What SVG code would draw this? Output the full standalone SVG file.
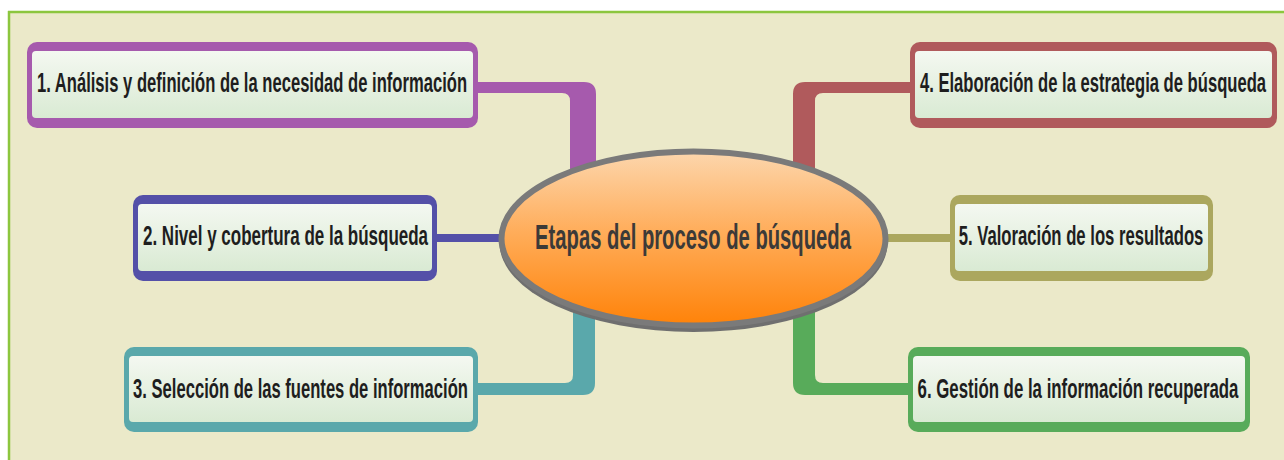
<svg xmlns="http://www.w3.org/2000/svg" width="1284" height="460" viewBox="0 0 1284 460">
<style>
.lbl{font-family:"Liberation Sans",Arial,sans-serif;font-weight:bold;font-size:28px;fill:#1e1e1e;text-anchor:middle}
.ctr{font-family:"Liberation Sans",Arial,sans-serif;font-weight:bold;font-size:35px;fill:#3c3a38;text-anchor:middle}
.inner{fill:url(#boxg)}
</style>
<defs>
<linearGradient id="boxg" x1="0" y1="0" x2="0" y2="1">
<stop offset="0" stop-color="#f4f8f1"/>
<stop offset="1" stop-color="#d9ead3"/>
</linearGradient>
<linearGradient id="ellg" x1="0" y1="0" x2="0" y2="1">
<stop offset="0" stop-color="#fcd6ad"/>
<stop offset="0.45" stop-color="#ffae5c"/>
<stop offset="1" stop-color="#ff8208"/>
</linearGradient>
</defs>
<rect x="0" y="0" width="1284" height="460" fill="#ffffff"/>
<rect x="9" y="12" width="1275" height="448" fill="#ebe9c9"/>
<line x1="8" y1="12" x2="1284" y2="12" stroke="#8cc63e" stroke-width="2.5"/>
<line x1="9" y1="11" x2="9" y2="460" stroke="#8cc63e" stroke-width="2.5"/>

<g id="connectors">
<path fill="#a65aad" d="M470,82 H584 Q596,82 596,94 V175 H570 V101 Q570,93 562,93 H470 Z"/>
<rect x="430" y="234" width="80" height="8" fill="#5450a8"/>
<path fill="#5aa8ab" d="M573,305 H595 V383 Q595,395 583,395 H470 V383 H565 Q573,383 573,375 Z"/>
<path fill="#b05a5c" d="M918,82 H805 Q793,82 793,94 V175 H815 V101 Q815,93 823,93 H918 Z"/>
<rect x="878" y="234" width="80" height="8" fill="#aba75e"/>
<path fill="#58ab5a" d="M793,305 H815 V375 Q815,383 823,383 H916 V395 H805 Q793,395 793,383 Z"/>
</g>

<g id="center">
<ellipse cx="693.5" cy="243" rx="194" ry="89" fill="#6f6f6f"/>
<ellipse cx="693.5" cy="238.5" rx="192" ry="87" fill="url(#ellg)" stroke="#7a7a7a" stroke-width="6"/>
<g transform="translate(693,249) scale(0.56,1)"><text class="ctr" x="0" y="0" textLength="564" lengthAdjust="spacingAndGlyphs">Etapas del proceso de búsqueda</text></g>
</g>

<g id="node1">
<rect x="27" y="42" width="451" height="86" rx="10" fill="#a65aad"/>
<rect x="32" y="51" width="441" height="67" rx="4" class="inner"/>
<g transform="translate(252,92) scale(0.56,1)"><text class="lbl" x="0" y="0" textLength="768" lengthAdjust="spacingAndGlyphs">1. Análisis y definición de la necesidad de información</text></g>
</g>

<g id="node2">
<rect x="133" y="195" width="304" height="86" rx="10" fill="#5450a8"/>
<rect x="138" y="204" width="294" height="67" rx="4" class="inner"/>
<g transform="translate(285.5,245) scale(0.56,1)"><text class="lbl" x="0" y="0" textLength="509" lengthAdjust="spacingAndGlyphs">2. Nivel y cobertura de la búsqueda</text></g>
</g>

<g id="node3">
<rect x="124" y="347" width="354" height="85" rx="10" fill="#5aa8ab"/>
<rect x="129" y="356" width="344" height="66" rx="4" class="inner"/>
<g transform="translate(300.5,398) scale(0.56,1)"><text class="lbl" x="0" y="0" textLength="598" lengthAdjust="spacingAndGlyphs">3. Selección de las fuentes de información</text></g>
</g>

<g id="node4">
<rect x="910" y="42" width="367" height="86" rx="10" fill="#b05a5c"/>
<rect x="915" y="51" width="357" height="67" rx="4" class="inner"/>
<g transform="translate(1093,92) scale(0.56,1)"><text class="lbl" x="0" y="0" textLength="618" lengthAdjust="spacingAndGlyphs">4. Elaboración de la estrategia de búsqueda</text></g>
</g>

<g id="node5">
<rect x="950" y="195" width="263" height="86" rx="10" fill="#aba75e"/>
<rect x="955" y="204" width="253" height="67" rx="4" class="inner"/>
<g transform="translate(1081,245) scale(0.56,1)"><text class="lbl" x="0" y="0" textLength="437" lengthAdjust="spacingAndGlyphs">5. Valoración de los resultados</text></g>
</g>

<g id="node6">
<rect x="908" y="347" width="342" height="85" rx="10" fill="#58ab5a"/>
<rect x="913" y="356" width="332" height="66" rx="4" class="inner"/>
<g transform="translate(1078,398) scale(0.56,1)"><text class="lbl" x="0" y="0" textLength="573" lengthAdjust="spacingAndGlyphs">6. Gestión de la información recuperada</text></g>
</g>
</svg>
